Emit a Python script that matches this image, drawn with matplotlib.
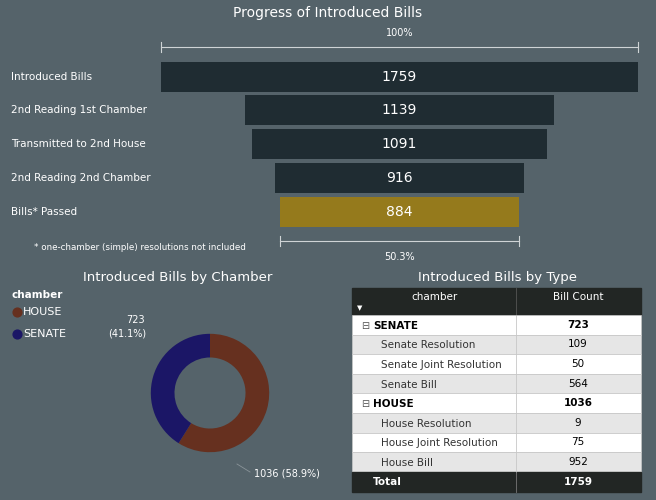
import matplotlib
matplotlib.use('Agg')
import matplotlib.pyplot as plt
from matplotlib.patches import Rectangle

# datos
stages = ['Introduced Bills', '2nd Reading 1st Chamber', 'Transmitted to 2nd House',
          '2nd Reading 2nd Chamber', 'Bills* Passed']
counts = [1759, 1139, 1091, 916, 884]
chambers = ['HOUSE', 'SENATE']
chamber_counts = [1036, 723]
table_rows = [('SENATE', 723, True), ('Senate Resolution', 109, False),
              ('Senate Joint Resolution', 50, False), ('Senate Bill', 564, False),
              ('HOUSE', 1036, True), ('House Resolution', 9, False),
              ('House Joint Resolution', 75, False), ('House Bill', 952, False)]
total = 1759

BG = '#55636a'
plt.rcParams['font.family'] = ['DejaVu Sans']
fig = plt.figure(figsize=(6.56, 5), dpi=100, facecolor=BG)
ax = fig.add_axes([0, 0, 1, 1])
ax.set_xlim(0, 656)
ax.set_ylim(500, 0)
ax.axis('off')

# embudo
cx, full_w = 399.5, 477
scale = full_w / counts[0]
ys = [77, 110, 144, 178, 212]
widths = [c * scale for c in counts]
lefts = [cx - w / 2 for w in widths]
colors = ['#1f2c32'] * 4 + ['#957a1c']
ax.barh(ys, widths, left=lefts, height=30, color=colors)
for y, c, s in zip(ys, counts, stages):
    ax.text(cx, y, str(c), ha='center', va='center', color='white', fontsize=10)
    ax.text(11, y, s, ha='left', va='center', color='white', fontsize=7.5)
ax.text(328, 13, 'Progress of Introduced Bills', ha='center', va='center',
        color='white', fontsize=10)
# escala 100%
ax.plot([161, 638], [47, 47], color='#cfd4d6', lw=0.8)
ax.plot([161, 161], [42, 52], color='#cfd4d6', lw=0.8)
ax.plot([638, 638], [42, 52], color='#cfd4d6', lw=0.8)
ax.text(399.5, 33, '100%', ha='center', va='center', color='white', fontsize=7)
l5, r5 = lefts[-1], lefts[-1] + widths[-1]
ax.plot([l5, r5], [241, 241], color='#cfd4d6', lw=0.8)
ax.plot([l5, l5], [236, 246], color='#cfd4d6', lw=0.8)
ax.plot([r5, r5], [236, 246], color='#cfd4d6', lw=0.8)
ax.text(cx, 257, '%.1f%%' % (counts[-1] / counts[0] * 100), ha='center', va='center',
        color='white', fontsize=7)
ax.text(34, 248, '* one-chamber (simple) resolutions not included', ha='left',
        va='center', color='white', fontsize=6.3)

# dona
ax.text(178, 278, 'Introduced Bills by Chamber', ha='center', va='center',
        color='white', fontsize=9.5)
ax.text(12, 295, 'chamber', ha='left', va='center', color='white', fontsize=7.5,
        fontweight='bold')
pie_cols = ['#66301f', '#1b1666']
for i, (ch, col) in enumerate(zip(chambers, pie_cols)):
    ax.scatter([17], [312 + i * 22], s=40, color=col)
    ax.text(23, 312 + i * 22, ch, ha='left', va='center', color='white', fontsize=8)
pax = fig.add_axes([136 / 656, 33 / 500, 148 / 656, 148 / 500])
pax.pie(chamber_counts, colors=pie_cols, startangle=90, counterclock=False,
        wedgeprops=dict(width=0.4))
pax.set_aspect('auto')
tot = sum(chamber_counts)
ax.text(145, 320, '%d' % chamber_counts[1], ha='right', va='center', color='white', fontsize=7)
ax.text(146, 334, '(%.1f%%)' % (chamber_counts[1] / tot * 100), ha='right', va='center',
        color='white', fontsize=7)
ax.plot([237, 250], [464, 472], color='#8a9499', lw=0.6)
ax.text(254, 473, '%d (%.1f%%)' % (chamber_counts[0], chamber_counts[0] / tot * 100),
        ha='left', va='center', color='white', fontsize=7)

# tabla
x0, xm, x1 = 352, 516, 641
ax.text(497, 277, 'Introduced Bills by Type', ha='center', va='center',
        color='white', fontsize=9.5)
ax.add_patch(Rectangle((x0, 288), x1 - x0, 27, color='#222624'))
ax.plot([xm, xm], [288, 315], color='#555', lw=0.6)
ax.text(434, 297, 'chamber', ha='center', va='center', color='white', fontsize=7.5)
ax.text(578, 297, 'Bill Count', ha='center', va='center', color='white', fontsize=7.5)
ax.text(360, 308, '\u25bc', ha='center', va='center', color='white', fontsize=5)
rh = 19.6
for i, (name, val, top) in enumerate(table_rows):
    y = 315 + i * rh
    fc = '#ffffff' if (top or i % 2 == 0) else '#e6e6e6'
    ax.add_patch(Rectangle((x0, y), x1 - x0, rh, facecolor=fc, edgecolor='#c8c8c8', lw=0.5))
    ax.plot([xm, xm], [y, y + rh], color='#c8c8c8', lw=0.6)
    if top:
        ax.text(361, y + rh / 2 + 1, '\u229f', ha='left', va='center', color='#555',
                fontsize=7)
        ax.text(373, y + rh / 2 + 1, name, ha='left', va='center', color='black',
                fontsize=7.5, fontweight='bold')
    else:
        ax.text(381, y + rh / 2 + 1, name, ha='left', va='center', color='#333',
                fontsize=7.5)
    ax.text(578, y + rh / 2, str(val), ha='center', va='center', color='black',
            fontsize=7.5, fontweight='bold' if top else 'normal')
yt = 315 + len(table_rows) * rh
ax.add_patch(Rectangle((x0, yt), x1 - x0, 492 - yt, color='#222624'))
ax.plot([xm, xm], [yt, 492], color='#777', lw=0.6)
ax.text(373, (yt + 492) / 2, 'Total', ha='left', va='center', color='white',
        fontsize=7.5, fontweight='bold')
ax.text(578, (yt + 492) / 2, str(total), ha='center', va='center', color='white',
        fontsize=7.5, fontweight='bold')

plt.savefig('out.png', dpi=100, facecolor=BG)
